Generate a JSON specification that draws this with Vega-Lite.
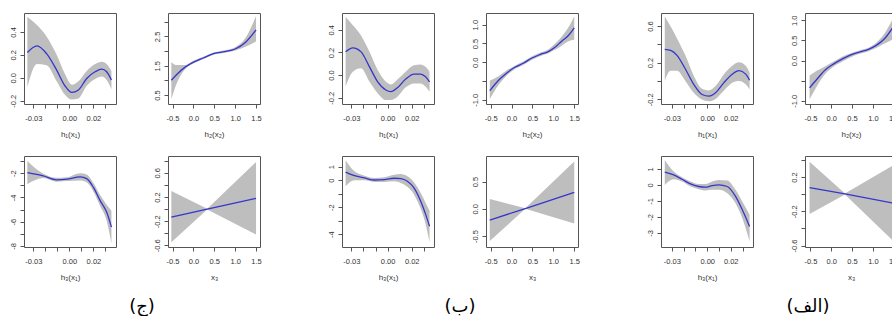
{
  "$schema": "https://vega.github.io/schema/vega-lite/v6.json",
  "background": "white",
  "padding": {"left": 8, "top": 12, "right": 0, "bottom": 0},
  "datasets": {
    "A1": [
      {"x": -0.035, "y": 0.22, "lo": -0.08, "hi": 0.53},
      {"x": -0.027, "y": 0.278, "lo": 0.12, "hi": 0.46},
      {"x": -0.019, "y": 0.21, "lo": 0.11, "hi": 0.36},
      {"x": -0.0106, "y": 0.067, "lo": -0.03, "hi": 0.2},
      {"x": -0.0036, "y": -0.072, "lo": -0.15, "hi": 0.03},
      {"x": 0.002, "y": -0.128, "lo": -0.19, "hi": -0.06},
      {"x": 0.0075, "y": -0.107, "lo": -0.18, "hi": -0.03},
      {"x": 0.0144, "y": -0.006, "lo": -0.07, "hi": 0.06},
      {"x": 0.0214, "y": 0.052, "lo": -0.01, "hi": 0.12},
      {"x": 0.027, "y": 0.075, "lo": 0.01, "hi": 0.14},
      {"x": 0.031, "y": 0.052, "lo": -0.02, "hi": 0.12},
      {"x": 0.035, "y": -0.02, "lo": -0.1, "hi": 0.06}
    ],
    "A2": [
      {"x": -0.53, "y": 1.0, "lo": 0.36, "hi": 1.62},
      {"x": -0.4, "y": 1.2, "lo": 0.9, "hi": 1.52},
      {"x": -0.2, "y": 1.45, "lo": 1.38, "hi": 1.52},
      {"x": 0.0, "y": 1.62, "lo": 1.57, "hi": 1.67},
      {"x": 0.25, "y": 1.77, "lo": 1.73, "hi": 1.81},
      {"x": 0.5, "y": 1.92, "lo": 1.88, "hi": 1.96},
      {"x": 0.75, "y": 1.98, "lo": 1.94, "hi": 2.03},
      {"x": 1.0, "y": 2.07, "lo": 2.02, "hi": 2.13},
      {"x": 1.25, "y": 2.3, "lo": 2.15, "hi": 2.45},
      {"x": 1.5, "y": 2.72, "lo": 2.33, "hi": 3.2}
    ],
    "A3": [
      {"x": -0.035, "y": -1.95, "lo": -2.9, "hi": -0.99},
      {"x": -0.0217, "y": -2.22, "lo": -2.4, "hi": -2.05},
      {"x": -0.0106, "y": -2.54, "lo": -2.7, "hi": -2.38},
      {"x": -0.002, "y": -2.49, "lo": -2.65, "hi": -2.33},
      {"x": 0.009, "y": -2.3, "lo": -2.6, "hi": -2.0},
      {"x": 0.0144, "y": -2.44, "lo": -2.75, "hi": -2.1},
      {"x": 0.02, "y": -3.17, "lo": -3.5, "hi": -2.8},
      {"x": 0.0256, "y": -4.26, "lo": -4.7, "hi": -3.8},
      {"x": 0.031, "y": -5.2, "lo": -5.9, "hi": -4.6},
      {"x": 0.035, "y": -6.44, "lo": -7.8, "hi": -5.1}
    ],
    "A4": [
      {"x": -0.53, "y": -0.134, "lo": -0.55, "hi": 0.3},
      {"x": 0.33, "y": 0.0, "lo": -0.005, "hi": 0.005},
      {"x": 1.5, "y": 0.178, "lo": -0.42, "hi": 0.78}
    ],
    "B1": [
      {"x": -0.0348, "y": 0.205, "lo": -0.1, "hi": 0.512},
      {"x": -0.0288, "y": 0.24, "lo": 0.03, "hi": 0.44},
      {"x": -0.022, "y": 0.205, "lo": 0.06, "hi": 0.35},
      {"x": -0.015, "y": 0.073, "lo": -0.059, "hi": 0.205},
      {"x": -0.0082, "y": -0.059, "lo": -0.16, "hi": 0.044},
      {"x": -0.0014, "y": -0.132, "lo": -0.22, "hi": -0.059},
      {"x": 0.0027, "y": -0.146, "lo": -0.22, "hi": -0.082},
      {"x": 0.0082, "y": -0.111, "lo": -0.19, "hi": -0.038},
      {"x": 0.015, "y": -0.035, "lo": -0.108, "hi": 0.03},
      {"x": 0.0219, "y": 0.009, "lo": -0.073, "hi": 0.088},
      {"x": 0.0274, "y": 0.009, "lo": -0.073, "hi": 0.094},
      {"x": 0.0315, "y": -0.015, "lo": -0.1, "hi": 0.073},
      {"x": 0.0348, "y": -0.059, "lo": -0.146, "hi": 0.03}
    ],
    "B2": [
      {"x": -0.52, "y": -0.755, "lo": -0.98, "hi": -0.49},
      {"x": -0.32, "y": -0.49, "lo": -0.62, "hi": -0.38},
      {"x": -0.12, "y": -0.29, "lo": -0.36, "hi": -0.22},
      {"x": 0.08, "y": -0.133, "lo": -0.18, "hi": -0.09},
      {"x": 0.28, "y": -0.027, "lo": -0.07, "hi": 0.018},
      {"x": 0.48, "y": 0.107, "lo": 0.062, "hi": 0.15},
      {"x": 0.68, "y": 0.204, "lo": 0.16, "hi": 0.25},
      {"x": 0.88, "y": 0.284, "lo": 0.24, "hi": 0.34},
      {"x": 1.04, "y": 0.4, "lo": 0.33, "hi": 0.49},
      {"x": 1.2, "y": 0.56, "lo": 0.44, "hi": 0.68},
      {"x": 1.36, "y": 0.71, "lo": 0.56, "hi": 0.93},
      {"x": 1.5, "y": 0.915, "lo": 0.6, "hi": 1.22}
    ],
    "B3": [
      {"x": -0.0348, "y": 0.61, "lo": -0.44, "hi": 1.46},
      {"x": -0.0274, "y": 0.34, "lo": 0.0, "hi": 0.66},
      {"x": -0.0192, "y": 0.17, "lo": 0.0, "hi": 0.34},
      {"x": -0.011, "y": 0.02, "lo": -0.12, "hi": 0.17},
      {"x": -0.0027, "y": 0.05, "lo": -0.12, "hi": 0.22},
      {"x": 0.0055, "y": 0.15, "lo": -0.07, "hi": 0.41},
      {"x": 0.011, "y": 0.12, "lo": -0.2, "hi": 0.46},
      {"x": 0.0164, "y": -0.07, "lo": -0.49, "hi": 0.29},
      {"x": 0.0219, "y": -0.56, "lo": -1.05, "hi": -0.15},
      {"x": 0.0274, "y": -1.54, "lo": -2.1, "hi": -0.93},
      {"x": 0.0315, "y": -2.51, "lo": -3.24, "hi": -1.66},
      {"x": 0.0348, "y": -3.41, "lo": -4.59, "hi": -2.27}
    ],
    "B4": [
      {"x": -0.52, "y": -0.206, "lo": -0.59, "hi": 0.18},
      {"x": 0.33, "y": 0.006, "lo": 0.0, "hi": 0.012},
      {"x": 1.5, "y": 0.303, "lo": -0.27, "hi": 0.87}
    ],
    "C1": [
      {"x": -0.036, "y": 0.346, "lo": 0.0, "hi": 0.707},
      {"x": -0.031, "y": 0.335, "lo": 0.11, "hi": 0.595},
      {"x": -0.0256, "y": 0.28, "lo": 0.11, "hi": 0.465},
      {"x": -0.0185, "y": 0.13, "lo": 0.0, "hi": 0.28},
      {"x": -0.0114, "y": -0.037, "lo": -0.13, "hi": 0.056},
      {"x": -0.0043, "y": -0.149, "lo": -0.205, "hi": -0.086},
      {"x": 0.0014, "y": -0.167, "lo": -0.223, "hi": -0.104},
      {"x": 0.0071, "y": -0.13, "lo": -0.197, "hi": -0.056},
      {"x": 0.0142, "y": -0.019, "lo": -0.104, "hi": 0.074},
      {"x": 0.0213, "y": 0.074, "lo": -0.019, "hi": 0.167},
      {"x": 0.027, "y": 0.112, "lo": 0.0, "hi": 0.205},
      {"x": 0.0327, "y": 0.074, "lo": -0.037, "hi": 0.167},
      {"x": 0.036, "y": 0.007, "lo": -0.093, "hi": 0.093}
    ],
    "C2": [
      {"x": -0.52, "y": -0.68, "lo": -0.96, "hi": -0.375},
      {"x": -0.34, "y": -0.46, "lo": -0.63, "hi": -0.25},
      {"x": -0.14, "y": -0.23, "lo": -0.33, "hi": -0.14},
      {"x": 0.06, "y": -0.083, "lo": -0.15, "hi": -0.025},
      {"x": 0.27, "y": 0.042, "lo": -0.025, "hi": 0.1},
      {"x": 0.47, "y": 0.14, "lo": 0.083, "hi": 0.18},
      {"x": 0.68, "y": 0.21, "lo": 0.167, "hi": 0.25},
      {"x": 0.88, "y": 0.27, "lo": 0.225, "hi": 0.31},
      {"x": 1.08, "y": 0.375, "lo": 0.31, "hi": 0.44},
      {"x": 1.28, "y": 0.54, "lo": 0.42, "hi": 0.67},
      {"x": 1.5, "y": 0.85, "lo": 0.54, "hi": 1.08}
    ],
    "C3": [
      {"x": -0.036, "y": 0.79, "lo": 0.0, "hi": 1.55},
      {"x": -0.0284, "y": 0.62, "lo": 0.35, "hi": 0.83},
      {"x": -0.0213, "y": 0.35, "lo": 0.21, "hi": 0.48},
      {"x": -0.0142, "y": 0.06, "lo": -0.1, "hi": 0.21},
      {"x": -0.0071, "y": -0.1, "lo": -0.27, "hi": 0.06},
      {"x": -0.0014, "y": -0.145, "lo": -0.35, "hi": 0.06},
      {"x": 0.0043, "y": -0.04, "lo": -0.31, "hi": 0.21},
      {"x": 0.0099, "y": 0.0, "lo": -0.31, "hi": 0.31},
      {"x": 0.017, "y": -0.1, "lo": -0.52, "hi": 0.27},
      {"x": 0.0241, "y": -0.72, "lo": -1.14, "hi": -0.31},
      {"x": 0.0298, "y": -1.55, "lo": -2.07, "hi": -1.04},
      {"x": 0.036, "y": -2.59, "lo": -3.52, "hi": -1.86}
    ],
    "C4": [
      {"x": -0.52, "y": 0.078, "lo": -0.23, "hi": 0.38},
      {"x": 0.33, "y": 0.003, "lo": -0.003, "hi": 0.009},
      {"x": 1.5, "y": -0.105, "lo": -0.55, "hi": 0.34}
    ],
    "LA": [{"t": "(ج)"}],
    "LB": [{"t": "(ب)"}],
    "LC": [{"t": "(الف)"}]
  },
  "hconcat": [
    {
      "spacing": 16,
      "vconcat": [
        {"spacing": 52, "bounds": "flush", "hconcat": [
          {"width": 92, "height": 91, "data": {"name": "A1"},
           "encoding": {"x": {"field": "x", "type": "quantitative", "scale": {"domain": [-0.0378, 0.0388], "nice": false, "zero": false}, "axis": {"values": [-0.03, -0.02, -0.01, 0, 0.01, 0.02, 0.03], "format": ".2f", "labelExpr": "indexof([-0.03,0,0.02],datum.value)>=0 ? replace(datum.label,'−','-') : ''", "title": "h₁(x₁)"}}},
           "layer": [
             {"mark": {"type": "area", "color": "#bebebe", "interpolate": "monotone", "clip": true}, "encoding": {"y": {"field": "lo", "type": "quantitative", "scale": {"domain": [-0.229, 0.565], "nice": false, "zero": false}, "axis": {"values": [-0.2, 0, 0.2, 0.4], "format": ".1f", "labelExpr": "replace(datum.label,'−','-')", "title": null}}, "y2": {"field": "hi"}}},
             {"mark": {"type": "line", "color": "#3535cc", "strokeWidth": 1.3, "interpolate": "monotone", "clip": true}, "encoding": {"y": {"field": "y", "type": "quantitative", "scale": {"domain": [-0.229, 0.565], "nice": false, "zero": false}, "axis": {"values": [-0.2, 0, 0.2, 0.4], "format": ".1f", "labelExpr": "replace(datum.label,'−','-')", "title": null}}}}
           ]},
          {"width": 92, "height": 91, "data": {"name": "A2"},
           "encoding": {"x": {"field": "x", "type": "quantitative", "scale": {"domain": [-0.61, 1.595], "nice": false, "zero": false}, "axis": {"values": [-0.5, 0, 0.5, 1, 1.5], "format": ".1f", "labelExpr": "replace(datum.label,'−','-')", "title": "h₂(x₂)"}}},
           "layer": [
             {"mark": {"type": "area", "color": "#bebebe", "interpolate": "monotone", "clip": true}, "encoding": {"y": {"field": "lo", "type": "quantitative", "scale": {"domain": [0.19, 3.3], "nice": false, "zero": false}, "axis": {"values": [0.5, 1, 1.5, 2, 2.5, 3], "format": ".1f", "labelExpr": "indexof([0.5,1.5,2.5],datum.value)>=0 ? datum.label : ''", "title": null}}, "y2": {"field": "hi"}}},
             {"mark": {"type": "line", "color": "#3535cc", "strokeWidth": 1.3, "interpolate": "monotone", "clip": true}, "encoding": {"y": {"field": "y", "type": "quantitative", "scale": {"domain": [0.19, 3.3], "nice": false, "zero": false}, "axis": {"values": [0.5, 1, 1.5, 2, 2.5, 3], "format": ".1f", "labelExpr": "indexof([0.5,1.5,2.5],datum.value)>=0 ? datum.label : ''", "title": null}}}}
           ]}
        ]},
        {"spacing": 52, "bounds": "flush", "hconcat": [
          {"width": 92, "height": 91, "data": {"name": "A3"},
           "encoding": {"x": {"field": "x", "type": "quantitative", "scale": {"domain": [-0.0378, 0.0388], "nice": false, "zero": false}, "axis": {"values": [-0.03, -0.02, -0.01, 0, 0.01, 0.02, 0.03], "format": ".2f", "labelExpr": "indexof([-0.03,0,0.02],datum.value)>=0 ? replace(datum.label,'−','-') : ''", "title": "h₃(x₁)"}}},
           "layer": [
             {"mark": {"type": "area", "color": "#bebebe", "interpolate": "monotone", "clip": true}, "encoding": {"y": {"field": "lo", "type": "quantitative", "scale": {"domain": [-8.08, -0.58], "nice": false, "zero": false}, "axis": {"values": [-8, -7, -6, -5, -4, -3, -2, -1], "format": "d", "labelExpr": "indexof([-8,-6,-4,-2],datum.value)>=0 ? replace(datum.label,'−','-') : ''", "title": null}}, "y2": {"field": "hi"}}},
             {"mark": {"type": "line", "color": "#3535cc", "strokeWidth": 1.3, "interpolate": "monotone", "clip": true}, "encoding": {"y": {"field": "y", "type": "quantitative", "scale": {"domain": [-8.08, -0.58], "nice": false, "zero": false}, "axis": {"values": [-8, -7, -6, -5, -4, -3, -2, -1], "format": "d", "labelExpr": "indexof([-8,-6,-4,-2],datum.value)>=0 ? replace(datum.label,'−','-') : ''", "title": null}}}}
           ]},
          {"width": 92, "height": 91, "data": {"name": "A4"},
           "encoding": {"x": {"field": "x", "type": "quantitative", "scale": {"domain": [-0.61, 1.595], "nice": false, "zero": false}, "axis": {"values": [-0.5, 0, 0.5, 1, 1.5], "format": ".1f", "labelExpr": "replace(datum.label,'−','-')", "title": "x₃"}}},
           "layer": [
             {"mark": {"type": "area", "color": "#bebebe", "clip": true}, "encoding": {"y": {"field": "lo", "type": "quantitative", "scale": {"domain": [-0.627, 0.879], "nice": false, "zero": false}, "axis": {"values": [-0.6, -0.4, -0.2, 0, 0.2, 0.4, 0.6, 0.8], "format": ".1f", "labelExpr": "indexof([-0.6,-0.2,0.2,0.6],datum.value)>=0 ? replace(datum.label,'−','-') : ''", "title": null}}, "y2": {"field": "hi"}}},
             {"mark": {"type": "line", "color": "#3535cc", "strokeWidth": 1.3, "clip": true}, "encoding": {"y": {"field": "y", "type": "quantitative", "scale": {"domain": [-0.627, 0.879], "nice": false, "zero": false}, "axis": {"values": [-0.6, -0.4, -0.2, 0, 0.2, 0.4, 0.6, 0.8], "format": ".1f", "labelExpr": "indexof([-0.6,-0.2,0.2,0.6],datum.value)>=0 ? replace(datum.label,'−','-') : ''", "title": null}}}}
           ]}
        ]},
        {"width": 236, "height": 14, "view": {"stroke": null}, "data": {"name": "LA"},
         "mark": {"type": "text", "fontSize": 18, "font": "DejaVu Sans", "baseline": "middle", "color": "black"},
         "encoding": {"text": {"field": "t", "type": "nominal"}}}
      ]
    },
    {
      "spacing": 16,
      "vconcat": [
        {"spacing": 52, "bounds": "flush", "hconcat": [
          {"width": 92, "height": 91, "data": {"name": "B1"},
           "encoding": {"x": {"field": "x", "type": "quantitative", "scale": {"domain": [-0.0378, 0.0385], "nice": false, "zero": false}, "axis": {"values": [-0.03, -0.02, -0.01, 0, 0.01, 0.02, 0.03], "format": ".2f", "labelExpr": "indexof([-0.03,0,0.02],datum.value)>=0 ? replace(datum.label,'−','-') : ''", "title": "h₁(x₁)"}}},
           "layer": [
             {"mark": {"type": "area", "color": "#bebebe", "interpolate": "monotone", "clip": true}, "encoding": {"y": {"field": "lo", "type": "quantitative", "scale": {"domain": [-0.255, 0.548], "nice": false, "zero": false}, "axis": {"values": [-0.2, 0, 0.2, 0.4], "format": ".1f", "labelExpr": "replace(datum.label,'−','-')", "title": null}}, "y2": {"field": "hi"}}},
             {"mark": {"type": "line", "color": "#3535cc", "strokeWidth": 1.3, "interpolate": "monotone", "clip": true}, "encoding": {"y": {"field": "y", "type": "quantitative", "scale": {"domain": [-0.255, 0.548], "nice": false, "zero": false}, "axis": {"values": [-0.2, 0, 0.2, 0.4], "format": ".1f", "labelExpr": "replace(datum.label,'−','-')", "title": null}}}}
           ]},
          {"width": 92, "height": 91, "data": {"name": "B2"},
           "encoding": {"x": {"field": "x", "type": "quantitative", "scale": {"domain": [-0.61, 1.59], "nice": false, "zero": false}, "axis": {"values": [-0.5, 0, 0.5, 1, 1.5], "format": ".1f", "labelExpr": "replace(datum.label,'−','-')", "title": "h₂(x₂)"}}},
           "layer": [
             {"mark": {"type": "area", "color": "#bebebe", "interpolate": "monotone", "clip": true}, "encoding": {"y": {"field": "lo", "type": "quantitative", "scale": {"domain": [-1.11, 1.31], "nice": false, "zero": false}, "axis": {"values": [-1, -0.5, 0, 0.5, 1], "format": ".1f", "labelExpr": "indexof([-1,0,0.5,1],datum.value)>=0 ? replace(datum.label,'−','-') : ''", "title": null}}, "y2": {"field": "hi"}}},
             {"mark": {"type": "line", "color": "#3535cc", "strokeWidth": 1.3, "interpolate": "monotone", "clip": true}, "encoding": {"y": {"field": "y", "type": "quantitative", "scale": {"domain": [-1.11, 1.31], "nice": false, "zero": false}, "axis": {"values": [-1, -0.5, 0, 0.5, 1], "format": ".1f", "labelExpr": "indexof([-1,0,0.5,1],datum.value)>=0 ? replace(datum.label,'−','-') : ''", "title": null}}}}
           ]}
        ]},
        {"spacing": 52, "bounds": "flush", "hconcat": [
          {"width": 92, "height": 91, "data": {"name": "B3"},
           "encoding": {"x": {"field": "x", "type": "quantitative", "scale": {"domain": [-0.0378, 0.0385], "nice": false, "zero": false}, "axis": {"values": [-0.03, -0.02, -0.01, 0, 0.01, 0.02, 0.03], "format": ".2f", "labelExpr": "indexof([-0.03,0,0.02],datum.value)>=0 ? replace(datum.label,'−','-') : ''", "title": "h₃(x₁)"}}},
           "layer": [
             {"mark": {"type": "area", "color": "#bebebe", "interpolate": "monotone", "clip": true}, "encoding": {"y": {"field": "lo", "type": "quantitative", "scale": {"domain": [-4.95, 1.8], "nice": false, "zero": false}, "axis": {"values": [-4, -3, -2, -1, 0, 1], "format": "d", "labelExpr": "indexof([-4,-2,0,1],datum.value)>=0 ? replace(datum.label,'−','-') : ''", "title": null}}, "y2": {"field": "hi"}}},
             {"mark": {"type": "line", "color": "#3535cc", "strokeWidth": 1.3, "interpolate": "monotone", "clip": true}, "encoding": {"y": {"field": "y", "type": "quantitative", "scale": {"domain": [-4.95, 1.8], "nice": false, "zero": false}, "axis": {"values": [-4, -3, -2, -1, 0, 1], "format": "d", "labelExpr": "indexof([-4,-2,0,1],datum.value)>=0 ? replace(datum.label,'−','-') : ''", "title": null}}}}
           ]},
          {"width": 92, "height": 91, "data": {"name": "B4"},
           "encoding": {"x": {"field": "x", "type": "quantitative", "scale": {"domain": [-0.61, 1.59], "nice": false, "zero": false}, "axis": {"values": [-0.5, 0, 0.5, 1, 1.5], "format": ".1f", "labelExpr": "replace(datum.label,'−','-')", "title": "x₃"}}},
           "layer": [
             {"mark": {"type": "area", "color": "#bebebe", "clip": true}, "encoding": {"y": {"field": "lo", "type": "quantitative", "scale": {"domain": [-0.7, 0.97], "nice": false, "zero": false}, "axis": {"values": [-0.5, 0, 0.5], "format": ".1f", "labelExpr": "replace(datum.label,'−','-')", "title": null}}, "y2": {"field": "hi"}}},
             {"mark": {"type": "line", "color": "#3535cc", "strokeWidth": 1.3, "clip": true}, "encoding": {"y": {"field": "y", "type": "quantitative", "scale": {"domain": [-0.7, 0.97], "nice": false, "zero": false}, "axis": {"values": [-0.5, 0, 0.5], "format": ".1f", "labelExpr": "replace(datum.label,'−','-')", "title": null}}}}
           ]}
        ]},
        {"width": 236, "height": 14, "view": {"stroke": null}, "data": {"name": "LB"},
         "mark": {"type": "text", "fontSize": 18, "font": "DejaVu Sans", "baseline": "middle", "color": "black"},
         "encoding": {"text": {"field": "t", "type": "nominal"}}}
      ]
    },
    {
      "spacing": 16,
      "vconcat": [
        {"spacing": 52, "bounds": "flush", "hconcat": [
          {"width": 92, "height": 91, "data": {"name": "C1"},
           "encoding": {"x": {"field": "x", "type": "quantitative", "scale": {"domain": [-0.0392, 0.0389], "nice": false, "zero": false}, "axis": {"values": [-0.03, -0.02, -0.01, 0, 0.01, 0.02, 0.03], "format": ".2f", "labelExpr": "indexof([-0.03,0,0.02],datum.value)>=0 ? replace(datum.label,'−','-') : ''", "title": "h₁(x₁)"}}},
           "layer": [
             {"mark": {"type": "area", "color": "#bebebe", "interpolate": "monotone", "clip": true}, "encoding": {"y": {"field": "lo", "type": "quantitative", "scale": {"domain": [-0.253, 0.744], "nice": false, "zero": false}, "axis": {"values": [-0.2, 0, 0.2, 0.4, 0.6], "format": ".1f", "labelExpr": "indexof([-0.2,0.2,0.6],datum.value)>=0 ? replace(datum.label,'−','-') : ''", "title": null}}, "y2": {"field": "hi"}}},
             {"mark": {"type": "line", "color": "#3535cc", "strokeWidth": 1.3, "interpolate": "monotone", "clip": true}, "encoding": {"y": {"field": "y", "type": "quantitative", "scale": {"domain": [-0.253, 0.744], "nice": false, "zero": false}, "axis": {"values": [-0.2, 0, 0.2, 0.4, 0.6], "format": ".1f", "labelExpr": "indexof([-0.2,0.2,0.6],datum.value)>=0 ? replace(datum.label,'−','-') : ''", "title": null}}}}
           ]},
          {"width": 92, "height": 91, "data": {"name": "C2"},
           "encoding": {"x": {"field": "x", "type": "quantitative", "scale": {"domain": [-0.63, 1.58], "nice": false, "zero": false}, "axis": {"values": [-0.5, 0, 0.5, 1, 1.5], "format": ".1f", "labelExpr": "replace(datum.label,'−','-')", "title": "h₂(x₂)"}}},
           "layer": [
             {"mark": {"type": "area", "color": "#bebebe", "interpolate": "monotone", "clip": true}, "encoding": {"y": {"field": "lo", "type": "quantitative", "scale": {"domain": [-1.08, 1.18], "nice": false, "zero": false}, "axis": {"values": [-1, -0.5, 0, 0.5, 1], "format": ".1f", "labelExpr": "indexof([-1,0,0.5,1],datum.value)>=0 ? replace(datum.label,'−','-') : ''", "title": null}}, "y2": {"field": "hi"}}},
             {"mark": {"type": "line", "color": "#3535cc", "strokeWidth": 1.3, "interpolate": "monotone", "clip": true}, "encoding": {"y": {"field": "y", "type": "quantitative", "scale": {"domain": [-1.08, 1.18], "nice": false, "zero": false}, "axis": {"values": [-1, -0.5, 0, 0.5, 1], "format": ".1f", "labelExpr": "indexof([-1,0,0.5,1],datum.value)>=0 ? replace(datum.label,'−','-') : ''", "title": null}}}}
           ]}
        ]},
        {"spacing": 52, "bounds": "flush", "hconcat": [
          {"width": 92, "height": 91, "data": {"name": "C3"},
           "encoding": {"x": {"field": "x", "type": "quantitative", "scale": {"domain": [-0.0392, 0.0389], "nice": false, "zero": false}, "axis": {"values": [-0.03, -0.02, -0.01, 0, 0.01, 0.02, 0.03], "format": ".2f", "labelExpr": "indexof([-0.03,0,0.02],datum.value)>=0 ? replace(datum.label,'−','-') : ''", "title": "h₃(x₁)"}}},
           "layer": [
             {"mark": {"type": "area", "color": "#bebebe", "interpolate": "monotone", "clip": true}, "encoding": {"y": {"field": "lo", "type": "quantitative", "scale": {"domain": [-3.87, 1.8], "nice": false, "zero": false}, "axis": {"values": [-3, -2, -1, 0, 1], "format": "d", "labelExpr": "replace(datum.label,'−','-')", "title": null}}, "y2": {"field": "hi"}}},
             {"mark": {"type": "line", "color": "#3535cc", "strokeWidth": 1.3, "interpolate": "monotone", "clip": true}, "encoding": {"y": {"field": "y", "type": "quantitative", "scale": {"domain": [-3.87, 1.8], "nice": false, "zero": false}, "axis": {"values": [-3, -2, -1, 0, 1], "format": "d", "labelExpr": "replace(datum.label,'−','-')", "title": null}}}}
           ]},
          {"width": 92, "height": 91, "data": {"name": "C4"},
           "encoding": {"x": {"field": "x", "type": "quantitative", "scale": {"domain": [-0.63, 1.58], "nice": false, "zero": false}, "axis": {"values": [-0.5, 0, 0.5, 1, 1.5], "format": ".1f", "labelExpr": "replace(datum.label,'−','-')", "title": "x₃"}}},
           "layer": [
             {"mark": {"type": "area", "color": "#bebebe", "clip": true}, "encoding": {"y": {"field": "lo", "type": "quantitative", "scale": {"domain": [-0.617, 0.447], "nice": false, "zero": false}, "axis": {"values": [-0.6, -0.4, -0.2, 0, 0.2, 0.4], "format": ".1f", "labelExpr": "indexof([-0.6,-0.2,0.2],datum.value)>=0 ? replace(datum.label,'−','-') : ''", "title": null}}, "y2": {"field": "hi"}}},
             {"mark": {"type": "line", "color": "#3535cc", "strokeWidth": 1.3, "clip": true}, "encoding": {"y": {"field": "y", "type": "quantitative", "scale": {"domain": [-0.617, 0.447], "nice": false, "zero": false}, "axis": {"values": [-0.6, -0.4, -0.2, 0, 0.2, 0.4], "format": ".1f", "labelExpr": "indexof([-0.6,-0.2,0.2],datum.value)>=0 ? replace(datum.label,'−','-') : ''", "title": null}}}}
           ]}
        ]},
        {"width": 236, "height": 14, "view": {"stroke": null}, "data": {"name": "LC"},
         "mark": {"type": "text", "fontSize": 18, "font": "DejaVu Sans", "baseline": "middle", "color": "black", "dx": 29},
         "encoding": {"text": {"field": "t", "type": "nominal"}}}
      ]
    }
  ],
  "spacing": 65,
  "config": {
    "view": {"stroke": "#555", "strokeWidth": 1},
    "axis": {"domain": false, "grid": false, "ticks": true, "tickColor": "#555", "tickSize": 4, "labelFont": "Liberation Sans", "labelFontSize": 7.5, "labelColor": "#333", "titleFont": "Liberation Sans", "titleFontSize": 8, "titleFontWeight": "normal", "titleColor": "#333", "labelOverlap": false, "labelFlush": false},
    "axisX": {"labelPadding": 6, "titlePadding": 9},
    "axisY": {"labelAngle": 270, "labelPadding": 2.5}
  }
}
